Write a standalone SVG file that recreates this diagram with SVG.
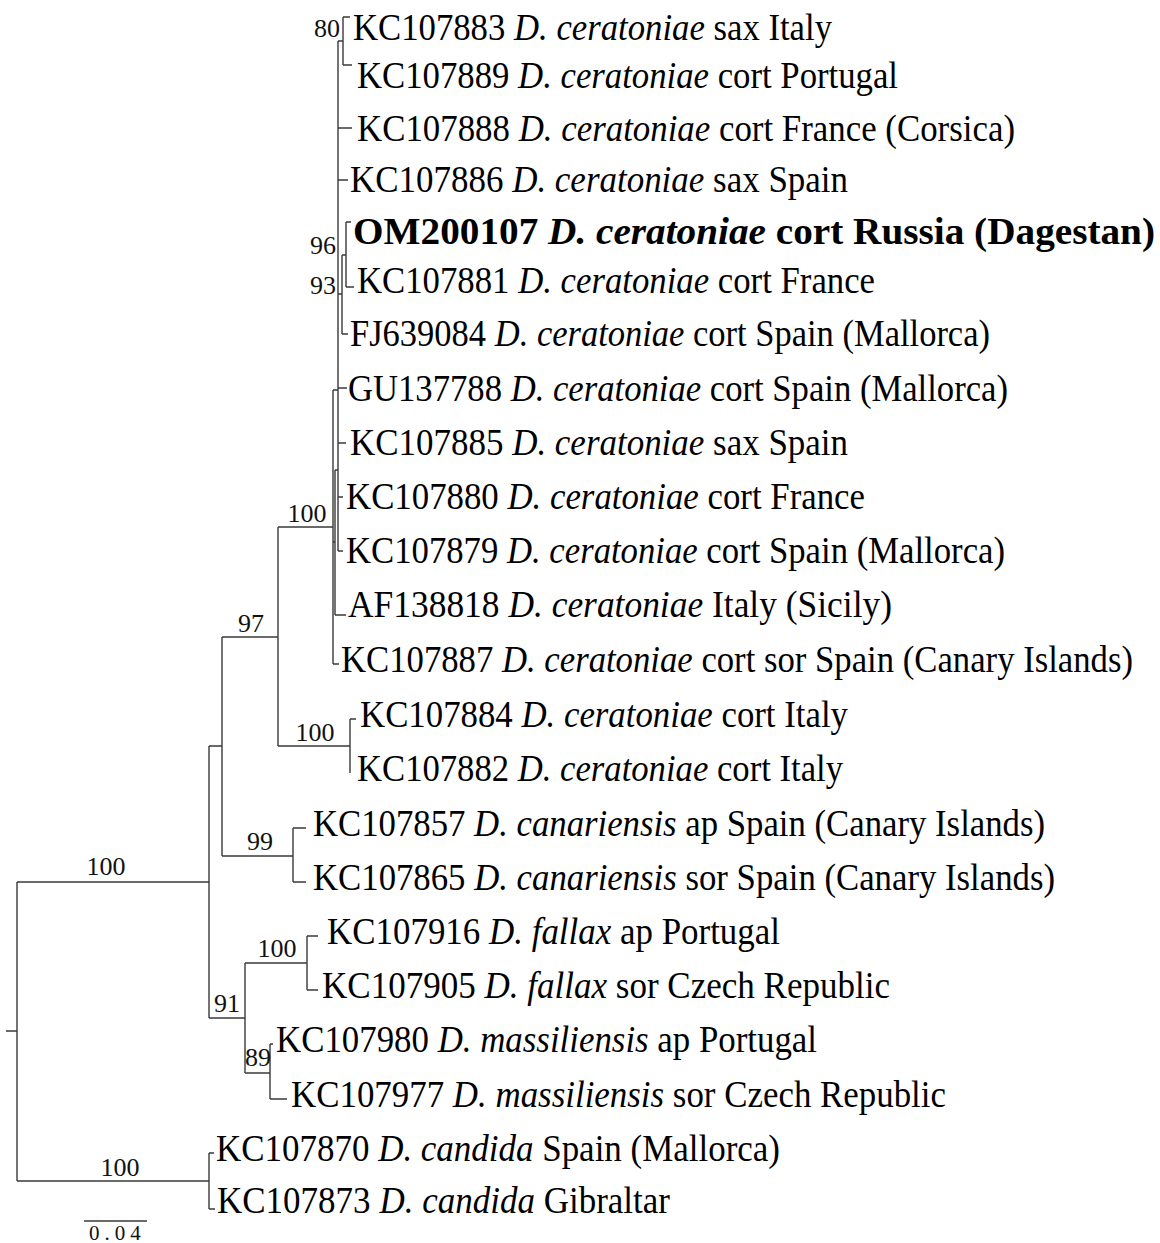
<svg xmlns="http://www.w3.org/2000/svg" width="1160" height="1243" viewBox="0 0 1160 1243">
<style>
.e{fill:none;stroke:#3a3a3a;stroke-width:1.4}
.t{font-family:"Liberation Serif","Times New Roman",serif;font-size:38px;fill:#000}
.b{font-family:"Liberation Serif","Times New Roman",serif;font-size:26px;fill:#111}
.i{font-style:italic}
.bold{font-weight:bold}
.s{font-family:"Liberation Serif","Times New Roman",serif;font-size:21px;fill:#111;letter-spacing:5px}
</style>
<rect width="1160" height="1243" fill="#fff"/>
<g id="connectors" class="e">
<path d="M6 1031H17M17 882V1181M17 882H209M17 1181H209"/>
<path d="M209 1153V1209M209 1153H214M209 1209H215"/>
<path d="M209 746V1018M209 746H222M222 637V856"/>
<path d="M222 856H293M293 828V882M293 828H306M293 882H306"/>
<path d="M222 637H278M278 527V746M278 746H350M350 719V773M350 719H356"/>
<path d="M278 527H333M333 390V664M333 664H339M333 390H338"/>
<path d="M338 41V551M338 388H347M338 443H346M338 497H343M338 551H343"/>
<path d="M333 542H335M335 470V615M335 615H346M335 470H338"/>
<path d="M338 41H343M343 17V65M343 17H350M343 65H352"/>
<path d="M338 128H352M338 180H348"/>
<path d="M338 294H342M342 255V334M342 334H348M342 255H346M346 222V287M346 222H351M346 287H354"/>
<path d="M209 1018H245M245 963V1073M245 963H307M307 936V990M307 936H318M307 990H318"/>
<path d="M245 1073H270M270 1044V1099M270 1044H273M270 1099H287"/>
<path d="M84 1221H147"/>
</g>
<g id="support">
<text class="b" x="340" y="37" text-anchor="end">80</text>
<text class="b" x="336" y="254" text-anchor="end">96</text>
<text class="b" x="336" y="294" text-anchor="end">93</text>
<text class="b" x="307" y="522" text-anchor="middle">100</text>
<text class="b" x="251" y="632" text-anchor="middle">97</text>
<text class="b" x="315" y="741" text-anchor="middle">100</text>
<text class="b" x="260" y="850" text-anchor="middle">99</text>
<text class="b" x="106" y="875" text-anchor="middle">100</text>
<text class="b" x="277" y="957" text-anchor="middle">100</text>
<text class="b" x="227" y="1012" text-anchor="middle">91</text>
<text class="b" x="258" y="1066" text-anchor="middle">89</text>
<text class="b" x="120" y="1176" text-anchor="middle">100</text>
<text class="s" x="89" y="1240">0.04</text>
</g>
<g id="tip1"><text class="t" x="353" y="40" textLength="479" lengthAdjust="spacingAndGlyphs">KC107883 <tspan class="i">D. ceratoniae</tspan> sax Italy</text></g>
<g id="tip2"><text class="t" x="357" y="88" textLength="541" lengthAdjust="spacingAndGlyphs">KC107889 <tspan class="i">D. ceratoniae</tspan> cort Portugal</text></g>
<g id="tip3"><text class="t" x="357" y="141" textLength="658" lengthAdjust="spacingAndGlyphs">KC107888 <tspan class="i">D. ceratoniae</tspan> cort France (Corsica)</text></g>
<g id="tip4"><text class="t" x="350" y="192" textLength="498" lengthAdjust="spacingAndGlyphs">KC107886 <tspan class="i">D. ceratoniae</tspan> sax Spain</text></g>
<g id="tip5"><text class="t bold" x="353" y="244" textLength="802" lengthAdjust="spacingAndGlyphs">OM200107 <tspan class="i">D. ceratoniae</tspan> cort Russia (Dagestan)</text></g>
<g id="tip6"><text class="t" x="357" y="293" textLength="518" lengthAdjust="spacingAndGlyphs">KC107881 <tspan class="i">D. ceratoniae</tspan> cort France</text></g>
<g id="tip7"><text class="t" x="350" y="346" textLength="640" lengthAdjust="spacingAndGlyphs">FJ639084 <tspan class="i">D. ceratoniae</tspan> cort Spain (Mallorca)</text></g>
<g id="tip8"><text class="t" x="348" y="401" textLength="660" lengthAdjust="spacingAndGlyphs">GU137788 <tspan class="i">D. ceratoniae</tspan> cort Spain (Mallorca)</text></g>
<g id="tip9"><text class="t" x="350" y="455" textLength="498" lengthAdjust="spacingAndGlyphs">KC107885 <tspan class="i">D. ceratoniae</tspan> sax Spain</text></g>
<g id="tip10"><text class="t" x="346" y="509" textLength="519" lengthAdjust="spacingAndGlyphs">KC107880 <tspan class="i">D. ceratoniae</tspan> cort France</text></g>
<g id="tip11"><text class="t" x="346" y="563" textLength="659" lengthAdjust="spacingAndGlyphs">KC107879 <tspan class="i">D. ceratoniae</tspan> cort Spain (Mallorca)</text></g>
<g id="tip12"><text class="t" x="348" y="617" textLength="544" lengthAdjust="spacingAndGlyphs">AF138818 <tspan class="i">D. ceratoniae</tspan> Italy (Sicily)</text></g>
<g id="tip13"><text class="t" x="341" y="672" textLength="792" lengthAdjust="spacingAndGlyphs">KC107887 <tspan class="i">D. ceratoniae</tspan> cort sor Spain (Canary Islands)</text></g>
<g id="tip14"><text class="t" x="360" y="727" textLength="488" lengthAdjust="spacingAndGlyphs">KC107884 <tspan class="i">D. ceratoniae</tspan> cort Italy</text></g>
<g id="tip15"><text class="t" x="357" y="781" textLength="486" lengthAdjust="spacingAndGlyphs">KC107882 <tspan class="i">D. ceratoniae</tspan> cort Italy</text></g>
<g id="tip16"><text class="t" x="313" y="836" textLength="732" lengthAdjust="spacingAndGlyphs">KC107857 <tspan class="i">D. canariensis</tspan> ap Spain (Canary Islands)</text></g>
<g id="tip17"><text class="t" x="313" y="890" textLength="742" lengthAdjust="spacingAndGlyphs">KC107865 <tspan class="i">D. canariensis</tspan> sor Spain (Canary Islands)</text></g>
<g id="tip18"><text class="t" x="327" y="944" textLength="453" lengthAdjust="spacingAndGlyphs">KC107916 <tspan class="i">D. fallax</tspan> ap Portugal</text></g>
<g id="tip19"><text class="t" x="322" y="998" textLength="568" lengthAdjust="spacingAndGlyphs">KC107905 <tspan class="i">D. fallax</tspan> sor Czech Republic</text></g>
<g id="tip20"><text class="t" x="276" y="1052" textLength="541" lengthAdjust="spacingAndGlyphs">KC107980 <tspan class="i">D. massiliensis</tspan> ap Portugal</text></g>
<g id="tip21"><text class="t" x="291" y="1107" textLength="655" lengthAdjust="spacingAndGlyphs">KC107977 <tspan class="i">D. massiliensis</tspan> sor Czech Republic</text></g>
<g id="tip22"><text class="t" x="216" y="1161" textLength="564" lengthAdjust="spacingAndGlyphs">KC107870 <tspan class="i">D. candida</tspan> Spain (Mallorca)</text></g>
<g id="tip23"><text class="t" x="217" y="1213" textLength="453" lengthAdjust="spacingAndGlyphs">KC107873 <tspan class="i">D. candida</tspan> Gibraltar</text></g>
</svg>
